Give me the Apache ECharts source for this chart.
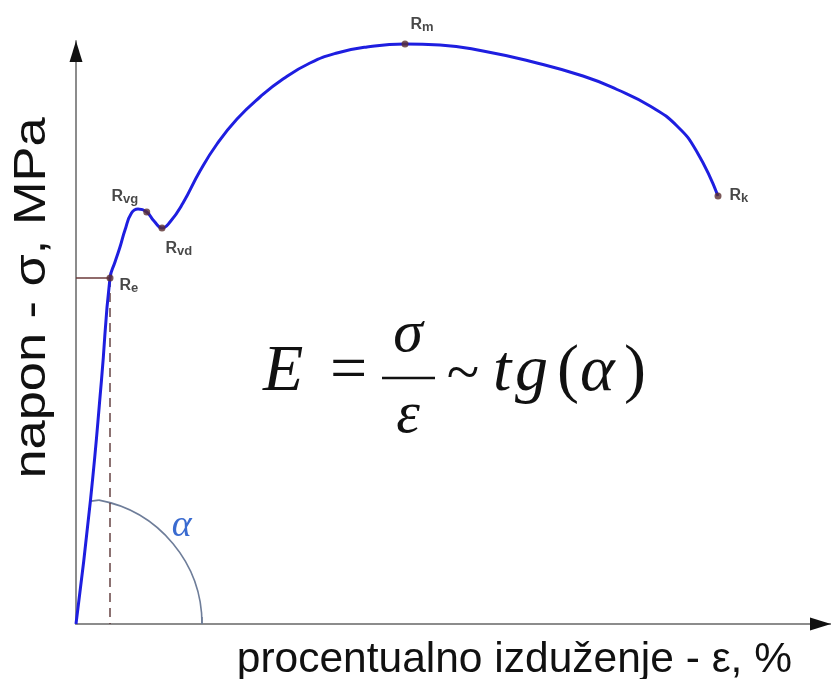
<!DOCTYPE html>
<html>
<head>
<meta charset="utf-8">
<script src="https://cdn.jsdelivr.net/npm/echarts@6/dist/echarts.min.js"></script>
<style>
  html, body { margin: 0; padding: 0; background: #ffffff; }
  #chart { width: 831px; height: 679px; }
</style>
</head>
<body>
<div id="chart"></div>
<script>
// Schematic engineering stress-strain curve of a mild steel tensile test

// curve samples: strain (%) and stress (MPa)
const strain = [0, 1.45, 2.55, 3.4, 3.9, 4.4, 4.9, 5.55, 6.2, 7.07, 7.8, 8.6, 9.4, 10.7, 12.4, 14.1, 16.1,
                18.4, 20.7, 23.4, 26.1, 29.1, 32.9, 36.4, 40.7, 45.7, 50.7, 54.1, 57.4, 60.1, 62.1, 64.2];
const stress = [0, 124, 244, 346, 362, 377, 394, 411, 415, 412, 403, 396, 402, 421, 453, 480, 505,
                527, 545, 561, 571, 577, 580, 579, 573, 562, 548, 534.5, 518, 498, 472, 428];

// characteristic points: yield limit, upper/lower yield, tensile strength, fracture
const pointBase = ['R', 'R', 'R', 'R', 'R'];
const pointSub = ['e', 'vg', 'vd', 'm', 'k'];
const pointStrain = [3.4, 7.07, 8.6, 32.9, 64.2];
const pointStress = [346, 412, 396, 580, 428];

// axis extents (arrow tips)
const xEnd = 75.5;
const yEnd = 583;

// angle marker for the elastic slope
const alphaRadius = 12.6;      // in strain units
const alphaStartDeg = 79.5;

const xTitle = 'procentualno izduženje - ε, %';
const yTitle = 'napon - σ, MPa';

const chart = echarts.init(document.getElementById('chart'), null, { renderer: 'canvas' });

const curveData = strain.map((x, i) => [x, stress[i]]);
const idxRe = 0;

const labelLayout = [
  { position: 'right', distance: 6, offset: [0, 8] },    // Re
  { position: 'left', distance: 5, offset: [0, -15] },   // Rvg
  { position: 'right', distance: 0, offset: [0, 21] },   // Rvd
  { position: 'right', distance: 2, offset: [0, -19] },  // Rm
  { position: 'right', distance: 8, offset: [0, 0] }     // Rk
];

const pointData = pointSub.map((s, i) => ({
  name: pointBase[i] + s,
  value: [pointStrain[i], pointStress[i]],
  label: Object.assign({
    show: true,
    formatter: '{r|' + pointBase[i] + '}{s|' + s + '}'
  }, labelLayout[i])
}));

const serif = '"Liberation Serif", "Times New Roman", serif';
const sans = '"Liberation Sans", Arial, sans-serif';

const option = {
  backgroundColor: '#ffffff',
  animation: false,
  grid: { left: 76, right: 0, top: 41, bottom: 55, containLabel: false },
  xAxis: {
    type: 'value', min: 0, max: xEnd,
    axisLine: { show: true, onZero: true, lineStyle: { color: '#8c8c8c', width: 2 } },
    axisTick: { show: false }, axisLabel: { show: false }, splitLine: { show: false }
  },
  yAxis: {
    type: 'value', min: 0, max: yEnd,
    axisLine: { show: true, lineStyle: { color: '#8c8c8c', width: 2 } },
    axisTick: { show: false }, axisLabel: { show: false }, splitLine: { show: false }
  },
  series: [
    {
      // Re guide lines
      type: 'line', name: 'ReH', silent: true, symbol: 'none', z: 2,
      data: [[0, pointStress[idxRe]], [pointStrain[idxRe], pointStress[idxRe]]],
      lineStyle: { color: '#6b3a3a', width: 1.4 }
    },
    {
      type: 'line', name: 'ReV', silent: true, symbol: 'none', z: 2,
      data: [[pointStrain[idxRe], pointStress[idxRe]], [pointStrain[idxRe], 0]],
      lineStyle: { color: '#5a3434', width: 1.4, type: [9, 6] }
    },
    {
      // angle alpha between elastic line and strain axis
      type: 'custom', name: 'alpha', silent: true, z: 2,
      data: [[0, 0]],
      renderItem: function (params, api) {
        const o = api.coord([0, 0]);
        const r = api.size([alphaRadius, 0])[0];
        const a0 = -alphaStartDeg * Math.PI / 180;
        const sx = o[0] + r * Math.cos(a0), sy = o[1] + r * Math.sin(a0);
        const ex = o[0] + r, ey = o[1];
        const st = { stroke: '#6e7d99', lineWidth: 1.6, fill: null };
        return {
          type: 'group',
          children: [
            { type: 'arc', shape: { cx: o[0], cy: o[1], r: r, startAngle: a0, endAngle: 0, clockwise: true }, style: st },
            { type: 'line', shape: { x1: sx, y1: sy, x2: sx - 8, y2: sy + 1 }, style: st },
            { type: 'line', shape: { x1: ex, y1: ey - 7, x2: ex, y2: ey }, style: st },
            { type: 'text', x: o[0] + r * 0.84, y: o[1] - r * 0.78,
              style: { text: 'α', font: 'italic 38px ' + serif, fill: '#3a6bd0', align: 'center', verticalAlign: 'middle' } }
          ]
        };
      }
    },
    {
      type: 'line', name: 'σ-ε', smooth: 0.5, symbol: 'none', z: 3,
      data: curveData,
      lineStyle: { color: '#1e1ee0', width: 3 }
    },
    {
      type: 'scatter', name: 'points', symbol: 'circle', symbolSize: 7, z: 4,
      data: pointData,
      itemStyle: { color: '#5a2e2e' },
      label: {
        rich: {
          r: { fontFamily: sans, fontSize: 16, color: '#1a1a1a', fontWeight: 'bold' },
          s: { fontFamily: sans, fontSize: 13, color: '#1a1a1a', fontWeight: 'bold', padding: [4, 0, 0, 0] }
        }
      }
    },
    {
      // arrow heads on the axes
      type: 'custom', name: 'arrows', silent: true, z: 5,
      data: [[0, 0]],
      renderItem: function (params, api) {
        const xt = api.coord([xEnd, 0]);
        const yt = api.coord([0, yEnd]);
        return {
          type: 'group',
          children: [
            { type: 'polygon', shape: { points: [[xt[0], xt[1]], [xt[0] - 21, xt[1] - 6.5], [xt[0] - 21, xt[1] + 6.5]] }, style: { fill: '#111' } },
            { type: 'polygon', shape: { points: [[yt[0], yt[1]], [yt[0] - 6.5, yt[1] + 21], [yt[0] + 6.5, yt[1] + 21]] }, style: { fill: '#111' } }
          ]
        };
      }
    }
  ],
  graphic: [
    { type: 'text', x: 792, y: 660, style: { text: xTitle, font: '42.5px ' + sans, fill: '#111', align: 'right', verticalAlign: 'middle' } },
    { type: 'text', x: 33, y: 298, rotation: Math.PI / 2, scaleX: 1.19, style: { text: yTitle, font: '44px ' + sans, fill: '#111', align: 'center', verticalAlign: 'middle' } },
    // E = σ/ε ~ tg(α)
    { type: 'text', x: 263, y: 373, style: { text: 'E', font: 'italic 66px ' + serif, fill: '#111', verticalAlign: 'middle' } },
    { type: 'text', x: 330, y: 373, style: { text: '=', font: '66px ' + serif, fill: '#111', verticalAlign: 'middle' } },
    { type: 'text', x: 408, y: 335, style: { text: 'σ', font: 'italic 60px ' + serif, fill: '#111', align: 'center', verticalAlign: 'middle' } },
    { type: 'line', shape: { x1: 382, y1: 378, x2: 435, y2: 378 }, style: { stroke: '#111', lineWidth: 2.5 } },
    { type: 'text', x: 408, y: 416, style: { text: 'ε', font: 'italic 60px ' + serif, fill: '#111', align: 'center', verticalAlign: 'middle' } },
    { type: 'text', x: 463, y: 376, style: { text: '~', font: '60px ' + serif, fill: '#111', align: 'center', verticalAlign: 'middle' } },
    { type: 'text', x: 493, y: 373, style: { text: 't', font: 'italic 66px ' + serif, fill: '#111', verticalAlign: 'middle' } },
    { type: 'text', x: 515, y: 373, style: { text: 'g', font: 'italic 66px ' + serif, fill: '#111', verticalAlign: 'middle' } },
    { type: 'text', x: 557, y: 373, style: { text: '(', font: '66px ' + serif, fill: '#111', verticalAlign: 'middle' } },
    { type: 'text', x: 580, y: 373, style: { text: 'α', font: 'italic 66px ' + serif, fill: '#111', verticalAlign: 'middle' } },
    { type: 'text', x: 624, y: 373, style: { text: ')', font: '66px ' + serif, fill: '#111', verticalAlign: 'middle' } }
  ]
};

chart.setOption(option);
</script>
</body>
</html>
